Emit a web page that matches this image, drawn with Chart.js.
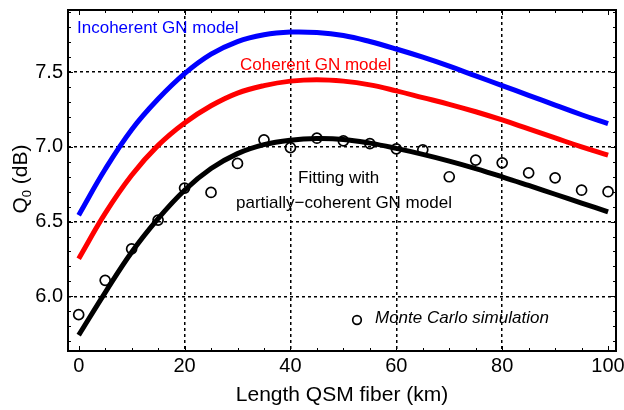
<!DOCTYPE html>
<html lang="en">
<head>
  <meta charset="UTF-8">
  <title>Q0 vs length of QSM fiber</title>
  <script src="https://cdn.jsdelivr.net/npm/chart.js"></script>
  <style>
    body {
      margin: 0;
      background: #fff;
    }
    canvas {
      display: block;
    }
  </style>
</head>
<body>
  <canvas id="qChart" width="624" height="410"></canvas>

  <script>
    // fiber length (km)
    const lengthKm = [0, 5, 10, 15, 20, 25, 30, 35, 40, 45, 50, 55, 60, 65, 70, 75, 80, 85, 90, 95, 100];

    // Q0 (dB)
    const incoherentGN = [6.543, 6.85, 7.115, 7.32, 7.49, 7.62, 7.705, 7.75, 7.768, 7.765, 7.745, 7.705, 7.655, 7.60, 7.54, 7.475, 7.41, 7.345, 7.28, 7.215, 7.155];
    const coherentGN = [6.252, 6.555, 6.81, 7.01, 7.16, 7.275, 7.36, 7.41, 7.44, 7.45, 7.44, 7.415, 7.375, 7.33, 7.285, 7.235, 7.18, 7.12, 7.06, 7.0, 6.945];
    const partialFit = [5.74, 6.025, 6.295, 6.52, 6.71, 6.855, 6.955, 7.015, 7.045, 7.056, 7.05, 7.025, 6.99, 6.95, 6.905, 6.855, 6.80, 6.742, 6.683, 6.624, 6.565];
    const monteCarlo = [5.877, 6.107, 6.317, 6.51, 6.724, 6.695, 6.889, 7.047, 6.995, 7.058, 7.04, 7.022, 6.987, 6.98, 6.80, 6.911, 6.893, 6.826, 6.793, 6.71, 6.70];

    const xTickLabels = [0, 20, 40, 60, 80, 100];
    const yTickLabels = [6.0, 6.5, 7.0, 7.5];

    const FONT = '"Liberation Sans", Arial, sans-serif';

    function pts(arr) {
      return lengthKm.map((x, i) => ({ x: x, y: arr[i] }));
    }

    function curve(label, arr, color) {
      return {
        label: label,
        data: pts(arr),
        borderColor: color,
        borderWidth: 5,
        borderCapStyle: 'butt',
        pointRadius: 0,
        fill: false,
        tension: 0.4
      };
    }

    // frame, inward ticks, labels drawn on top of the chart
    const decorations = {
      id: 'decorations',
      afterDraw(chart) {
        const ctx = chart.ctx;
        const a = chart.chartArea;
        const xs = chart.scales.x;
        const ys = chart.scales.y;
        ctx.save();

        // minor/major ticks pointing inward
        ctx.strokeStyle = '#000';
        ctx.lineWidth = 1;
        ctx.beginPath();
        for (let v = 0; v <= 100; v += 5) {
          const px = Math.round(xs.getPixelForValue(v)) + 0.5;
          const len = v % 20 === 0 ? 5 : 3;
          ctx.moveTo(px, a.bottom); ctx.lineTo(px, a.bottom - len);
          ctx.moveTo(px, a.top); ctx.lineTo(px, a.top + len);
        }
        for (let k = 57; k <= 79; k++) {
          const v = k / 10;
          const py = Math.round(ys.getPixelForValue(v)) + 0.5;
          const len = k % 5 === 0 ? 5 : 3;
          ctx.moveTo(a.left, py); ctx.lineTo(a.left + len, py);
          ctx.moveTo(a.right, py); ctx.lineTo(a.right - len, py);
        }
        ctx.stroke();

        // frame
        ctx.lineWidth = 2;
        ctx.strokeRect(a.left, a.top, a.right - a.left, a.bottom - a.top);

        // curve labels
        ctx.textBaseline = 'alphabetic';
        ctx.textAlign = 'left';
        ctx.font = '17px ' + FONT;
        ctx.fillStyle = '#0000ff';
        ctx.fillText('Incoherent GN model', 77, 33);
        ctx.fillStyle = '#ff0000';
        ctx.fillText('Coherent GN model', 240, 70);
        ctx.fillStyle = '#000';
        ctx.fillText('Fitting with', 298, 183);
        ctx.fillText('partially\u2212coherent GN model', 236, 208);

        // legend for simulation points
        ctx.lineWidth = 1.7;
        ctx.beginPath();
        ctx.arc(357, 320, 4.3, 0, Math.PI * 2);
        ctx.stroke();
        ctx.font = 'italic 17px ' + FONT;
        ctx.fillText('Monte Carlo simulation', 375, 323);

        // x title
        ctx.font = '21px ' + FONT;
        ctx.textAlign = 'center';
        ctx.fillText('Length QSM fiber (km)', 342, 401);

        // y title with subscript
        ctx.translate(27, 179);
        ctx.rotate(-Math.PI / 2);
        ctx.textAlign = 'left';
        const big = '21px ' + FONT;
        const small = '13px ' + FONT;
        ctx.font = big;
        const wQ = ctx.measureText('Q').width;
        const wRest = ctx.measureText(' (dB)').width;
        ctx.font = small;
        const w0 = ctx.measureText('0').width;
        let x0 = -(wQ + w0 + wRest) / 2;
        ctx.font = big;
        ctx.fillText('Q', x0, 0);
        ctx.font = small;
        ctx.fillText('0', x0 + wQ, 4);
        ctx.font = big;
        ctx.fillText(' (dB)', x0 + wQ + w0, 0);

        ctx.restore();
      }
    };

    new Chart(document.getElementById('qChart'), {
      type: 'line',
      data: {
        datasets: [
          curve('Incoherent GN model', incoherentGN, '#0000ff'),
          curve('Coherent GN model', coherentGN, '#ff0000'),
          curve('Fitting with partially-coherent GN model', partialFit, '#000000'),
          {
            label: 'Monte Carlo simulation',
            data: pts(monteCarlo),
            showLine: false,
            pointRadius: 5,
            pointBorderWidth: 1.7,
            pointBorderColor: '#000',
            pointBackgroundColor: 'rgba(0,0,0,0)',
            pointHoverRadius: 5
          }
        ]
      },
      options: {
        responsive: false,
        animation: false,
        devicePixelRatio: 1,
        layout: { padding: { top: 10, right: 8, left: 0, bottom: 0 } },
        plugins: {
          legend: { display: false },
          tooltip: { enabled: false }
        },
        scales: {
          x: {
            type: 'linear',
            min: -2.02,
            max: 101.5,
            afterBuildTicks: s => { s.ticks = xTickLabels.map(v => ({ value: v })); },
            afterFit: s => { s.height = 59; s.paddingLeft = 0; s.paddingRight = 0; },
            ticks: {
              color: '#000',
              font: { family: FONT, size: 20 },
              padding: 3,
              maxRotation: 0,
              callback: v => String(v)
            },
            grid: {
              drawTicks: false,
              lineWidth: 1.5,
              color: c => (c.tick && c.tick.value > 0 && c.tick.value < 100) ? '#000' : 'rgba(0,0,0,0)'
            },
            border: { display: false, dash: [3, 3] }
          },
          y: {
            min: 5.634,
            max: 7.916,
            afterBuildTicks: s => { s.ticks = yTickLabels.map(v => ({ value: v })); },
            afterFit: s => { s.width = 68; s.paddingTop = 0; s.paddingBottom = 0; },
            ticks: {
              color: '#000',
              font: { family: FONT, size: 20 },
              padding: 5,
              callback: v => v.toFixed(1)
            },
            grid: {
              drawTicks: false,
              lineWidth: 1.5,
              color: '#000'
            },
            border: { display: false, dash: [3, 3] }
          }
        }
      },
      plugins: [decorations]
    });
  </script>
</body>
</html>
